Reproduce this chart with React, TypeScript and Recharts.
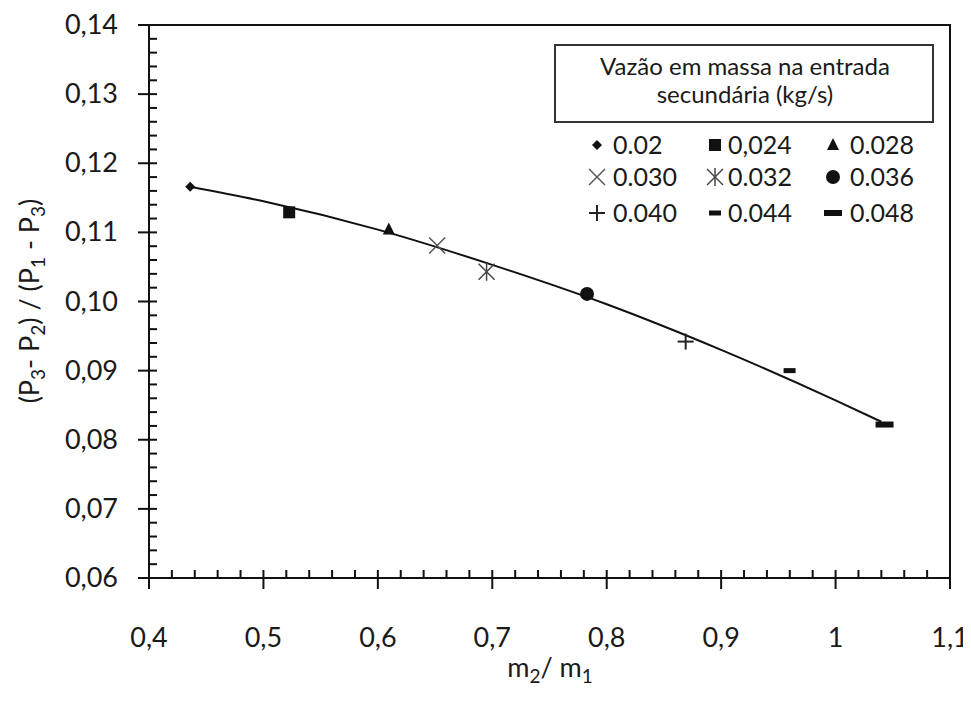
import React from 'react';
import { ComposedChart, Line, Scatter, XAxis, YAxis, ReferenceArea } from 'recharts';

// Vazão em massa na entrada secundária (kg/s) – one point per flow rate
const flowLabels = ['0.02', '0,024', '0.028', '0.030', '0.032', '0.036', '0.040', '0.044', '0.048'];
const markerKinds = ['diamond', 'square', 'triangle', 'x', 'star', 'circle', 'plus', 'dash', 'longDash'];
const massRatio = [0.436, 0.5225, 0.6096, 0.6518, 0.695, 0.7828, 0.869, 0.9598, 1.0428];
const pressureRatio = [0.1166, 0.1129, 0.1104, 0.1081, 0.1043, 0.1011, 0.0942, 0.09, 0.0822];

// trend line
const trendX = [0.436, 0.5, 0.6, 0.7, 0.8, 0.9, 1.0, 1.04];
const trendY = [0.1166, 0.1145, 0.1104, 0.1053, 0.0996, 0.093, 0.0857, 0.0826];

const xMajorTicks = [0.4, 0.5, 0.6, 0.7, 0.8, 0.9, 1.0, 1.1];
const yMajorTicks = [0.06, 0.07, 0.08, 0.09, 0.1, 0.11, 0.12, 0.13, 0.14];

const FONT = 'Lato, "Open Sans", sans-serif';
const TEXT = '#1a1a1a';

// 5 minor steps between each pair of major ticks
function withMinor(major: number[]) {
  const out: number[] = [];
  for (let i = 0; i < major.length - 1; i++) {
    const step = (major[i + 1] - major[i]) / 5;
    for (let k = 0; k < 5; k++) out.push(+(major[i] + k * step).toFixed(4));
  }
  out.push(major[major.length - 1]);
  return out;
}

const isMajor = (v: number, list: number[]) => list.some((m) => Math.abs(m - v) < 1e-6);

const trendData = trendX.map((x, i) => ({ x, y: trendY[i] }));

function Marker({ kind, cx, cy }: { kind: string; cx: number; cy: number }) {
  switch (kind) {
    case 'diamond':
      return <polygon points={`${cx},${cy - 5} ${cx + 5},${cy} ${cx},${cy + 5} ${cx - 5},${cy}`} fill="#111" />;
    case 'square':
      return <rect x={cx - 6} y={cy - 6} width={12} height={12} fill="#111" />;
    case 'triangle':
      return <polygon points={`${cx},${cy - 7} ${cx + 6},${cy + 5} ${cx - 6},${cy + 5}`} fill="#111" />;
    case 'x':
      return (
        <g stroke="#555" strokeWidth={1.5}>
          <line x1={cx - 8} y1={cy - 8} x2={cx + 8} y2={cy + 8} />
          <line x1={cx - 8} y1={cy + 8} x2={cx + 8} y2={cy - 8} />
        </g>
      );
    case 'star':
      return (
        <g stroke="#444" strokeWidth={1.5}>
          <line x1={cx} y1={cy - 9} x2={cx} y2={cy + 9} />
          <line x1={cx - 8} y1={cy - 8} x2={cx + 8} y2={cy + 8} />
          <line x1={cx - 8} y1={cy + 8} x2={cx + 8} y2={cy - 8} />
        </g>
      );
    case 'circle':
      return <circle cx={cx} cy={cy} r={7} fill="#111" />;
    case 'plus':
      return (
        <g stroke="#222" strokeWidth={2}>
          <line x1={cx - 8} y1={cy} x2={cx + 8} y2={cy} />
          <line x1={cx} y1={cy - 8} x2={cx} y2={cy + 8} />
        </g>
      );
    case 'dash':
      return <rect x={cx - 6} y={cy - 2.5} width={12} height={5} fill="#111" />;
    case 'longDash':
      return <rect x={cx - 9} y={cy - 3} width={18} height={6} fill="#111" />;
    default:
      return null;
  }
}

function XTick({ x, y, payload }: any) {
  const v = payload.value;
  if (!isMajor(v, xMajorTicks)) {
    return <line x1={x} y1={y - 8} x2={x} y2={y} stroke="#111" strokeWidth={2} />;
  }
  const label = Math.abs(v - 1) < 1e-6 ? '1' : v.toFixed(1).replace('.', ',');
  return (
    <g>
      <line x1={x} y1={y - 8} x2={x} y2={y + 11} stroke="#111" strokeWidth={2} />
      <text x={x} y={y + 69} textAnchor="middle" fontSize={27} fontFamily={FONT} fill={TEXT}>
        {label}
      </text>
    </g>
  );
}

function YTick({ x, y, payload }: any) {
  const v = payload.value;
  if (!isMajor(v, yMajorTicks)) {
    return <line x1={x} y1={y} x2={x + 8} y2={y} stroke="#111" strokeWidth={2} />;
  }
  return (
    <g>
      <line x1={x - 11} y1={y} x2={x + 8} y2={y} stroke="#111" strokeWidth={2} />
      <text x={x - 31} y={y + 9} textAnchor="end" fontSize={27} fontFamily={FONT} fill={TEXT}>
        {v.toFixed(2).replace('.', ',')}
      </text>
    </g>
  );
}

// axis titles at fixed spots (svg coords = page coords - 8)
function XTitle() {
  return (
    <text x={542} y={669} textAnchor="middle" fontSize={27} fontFamily={FONT} fill={TEXT}>
      m<tspan fontSize={19} dy={6}>2</tspan>
      <tspan dy={-6}>/ m</tspan>
      <tspan fontSize={19} dy={6}>1</tspan>
    </text>
  );
}

function YTitle() {
  return (
    <text
      transform="translate(31, 293) rotate(-90)"
      textAnchor="middle"
      fontSize={27}
      fontFamily={FONT}
      fill={TEXT}
    >
      (P<tspan fontSize={19} dy={6}>3</tspan>
      <tspan dy={-6}>- P</tspan>
      <tspan fontSize={19} dy={6}>2</tspan>
      <tspan dy={-6}>) / (P</tspan>
      <tspan fontSize={19} dy={6}>1</tspan>
      <tspan dy={-6}> - P</tspan>
      <tspan fontSize={19} dy={6}>3</tspan>
      <tspan dy={-6}>)</tspan>
    </text>
  );
}

function LegendBox() {
  const colMarker = [43, 161, 279];
  const colText = [59, 174, 296];
  const rowMarker = [101, 133, 169];
  const rowText = [110, 142, 178];
  return (
    <svg width={384} height={190} style={{ position: 'absolute', left: 546, top: 36 }}>
      <rect x={1} y={1} width={378} height={77} fill="#fff" stroke="#333" strokeWidth={2} />
      <text x={191} y={31} textAnchor="middle" fontSize={24} fontFamily={FONT} fill={TEXT}>
        Vazão em massa na entrada
      </text>
      <text x={191} y={59} textAnchor="middle" fontSize={24} fontFamily={FONT} fill={TEXT}>
        secundária (kg/s)
      </text>
      {flowLabels.map((label, i) => {
        const r = Math.floor(i / 3);
        const c = i % 3;
        return (
          <g key={label}>
            <Marker kind={markerKinds[i]} cx={colMarker[c]} cy={rowMarker[r]} />
            <text x={colText[c]} y={rowText[r]} fontSize={25} fontFamily={FONT} fill={TEXT}>
              {label}
            </text>
          </g>
        );
      })}
    </svg>
  );
}

export default function App() {
  return (
    <div style={{ position: 'relative', width: 960, height: 690, background: '#fff' }}>
      <ComposedChart width={960} height={690} margin={{ top: 17, right: 18, left: 0, bottom: 0 }}>
        <ReferenceArea x1={0.4} x2={1.1} y1={0.06} y2={0.14} fill="none" stroke="#111" strokeWidth={2} />
        <XAxis
          type="number"
          dataKey="x"
          domain={[0.4, 1.1]}
          ticks={withMinor(xMajorTicks)}
          interval={0}
          height={120}
          tickSize={0}
          tickMargin={0}
          tickLine={false}
          axisLine={{ stroke: '#111', strokeWidth: 2 }}
          tick={<XTick />}
          label={<XTitle />}
        />
        <YAxis
          type="number"
          dataKey="y"
          domain={[0.06, 0.14]}
          ticks={withMinor(yMajorTicks)}
          interval={0}
          width={141}
          tickSize={0}
          tickMargin={0}
          tickLine={false}
          axisLine={{ stroke: '#111', strokeWidth: 2 }}
          tick={<YTick />}
          label={<YTitle />}
        />
        <Line
          data={trendData}
          dataKey="y"
          type="monotone"
          dot={false}
          stroke="#111"
          strokeWidth={2}
          isAnimationActive={false}
        />
        {flowLabels.map((label, i) => (
          <Scatter
            key={label}
            name={label}
            data={[{ x: massRatio[i], y: pressureRatio[i] }]}
            isAnimationActive={false}
            shape={(p: any) => <Marker kind={markerKinds[i]} cx={p.cx} cy={p.cy} />}
          />
        ))}
      </ComposedChart>
      <LegendBox />
    </div>
  );
}
